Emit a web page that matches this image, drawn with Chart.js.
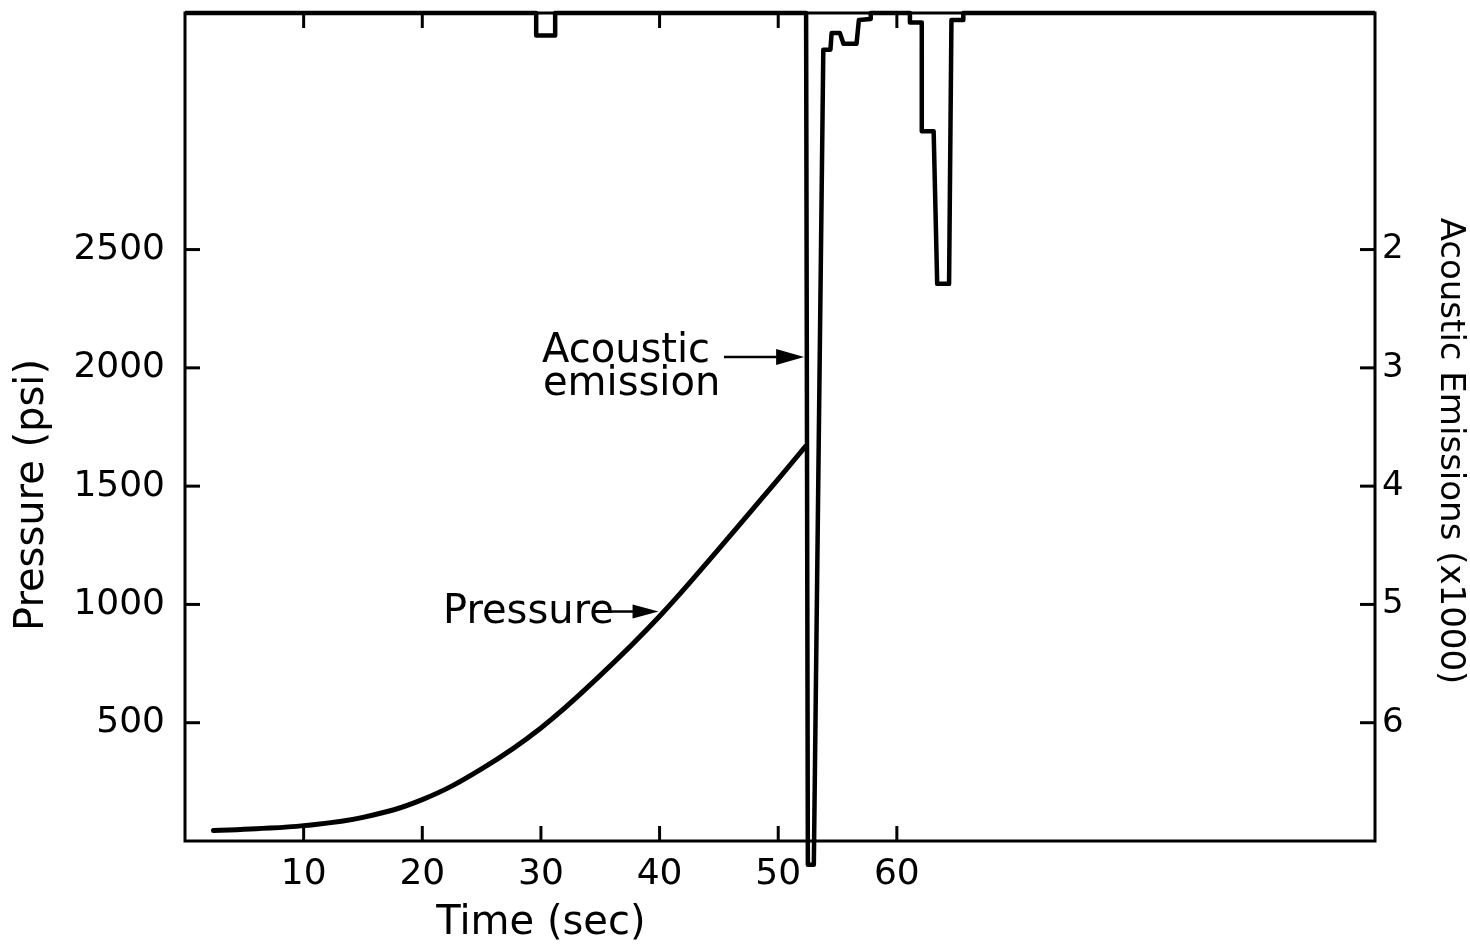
<!DOCTYPE html>
<html>
<head>
<meta charset="utf-8">
<script src="https://cdn.jsdelivr.net/npm/chart.js@4.4.1/dist/chart.umd.min.js"></script>
<style>
  html, body { margin: 0; padding: 0; background: #fff; }
  canvas { display: block; }
</style>
</head>
<body>
<canvas id="aeChart" width="1470" height="947"></canvas>
<script>
// Pressure trace (left axis, psi) against time (sec)
const pressureTime = [2.4, 6, 10, 15, 20, 25, 30, 35, 40, 45, 50, 52.3];
const pressureValues = [44, 52, 65, 100, 175, 305, 478, 700, 950, 1235, 1530, 1668];

// Acoustic emission trace (right axis, x1000, counted downward from the top)
const emissionTime = [0, 29.6, 29.6, 31.2, 31.2, 52.35, 52.5, 53.0, 53.8, 54.4, 54.5, 55.2, 55.5, 56.6,
    56.8, 57.8, 57.8, 61.1, 61.1, 62.1, 62.1, 63.1, 63.4, 64.4, 64.6, 65.6, 65.6, 100.3];
const emissionValues = [0, 0, 0.19, 0.19, 0, 0, 7.2, 7.2, 0.31, 0.31, 0.17, 0.17, 0.26, 0.26,
    0.06, 0.05, 0, 0, 0.08, 0.08, 1.0, 1.0, 2.29, 2.29, 0.06, 0.06, 0, 0];

// Tick labels
const xTicks = [10, 20, 30, 40, 50, 60];
const xTopTicks = [10, 20, 40, 50, 60];
const pressureTicks = [500, 1000, 1500, 2000, 2500];
const emissionTicks = [2, 3, 4, 5, 6];

const FONT = 'DejaVu Sans';
Chart.defaults.font.family = FONT;
Chart.defaults.color = '#000';

function toPoints(xs, ys) {
    return xs.map((x, i) => ({ x, y: ys[i] }));
}

function fixedTicks(list) {
    return scale => { scale.ticks = list.map(v => ({ value: v })); };
}

// keep the plot box exactly where the axes say, without label overhang padding
function fixSize(prop, size) {
    return s => {
        s[prop] = size;
        s.paddingTop = 0; s.paddingBottom = 0;
        s.paddingLeft = 0; s.paddingRight = 0;
    };
}

function line(ctx, x1, y1, x2, y2) {
    ctx.beginPath();
    ctx.moveTo(x1, y1);
    ctx.lineTo(x2, y2);
    ctx.stroke();
}

function arrow(ctx, x1, x2, y, head, half) {
    ctx.lineWidth = 2.5;
    line(ctx, x1, y, x2 - head + 2, y);
    ctx.beginPath();
    ctx.moveTo(x2, y);
    ctx.lineTo(x2 - head, y - half);
    ctx.lineTo(x2 - head, y + half);
    ctx.closePath();
    ctx.fill();
}

// Frame with inward ticks, as on the original plotter chart
const frameTicks = {
    id: 'frameTicks',
    beforeDatasetsDraw(chart) {
        const { ctx, chartArea: a, scales } = chart;
        const len = 15;
        ctx.save();
        ctx.strokeStyle = '#000';
        ctx.lineWidth = 3;
        ctx.strokeRect(a.left, a.top, a.right - a.left, a.bottom - a.top);
        xTicks.forEach(v => {
            const px = scales.x.getPixelForValue(v);
            line(ctx, px, a.bottom, px, a.bottom - len);
        });
        xTopTicks.forEach(v => {
            const px = scales.x.getPixelForValue(v);
            line(ctx, px, a.top, px, a.top + len);
        });
        pressureTicks.forEach(v => {
            const py = scales.y.getPixelForValue(v);
            line(ctx, a.left, py, a.left + len, py);
        });
        emissionTicks.forEach(v => {
            const py = scales.y2.getPixelForValue(v);
            line(ctx, a.right, py, a.right - len, py);
        });
        ctx.restore();
    },
    afterDraw(chart) {
        const { ctx, scales } = chart;
        const x = scales.x, y = scales.y;
        ctx.save();
        ctx.fillStyle = '#000';
        ctx.strokeStyle = '#000';

        // axis titles
        ctx.font = `40px "${FONT}"`;
        ctx.textAlign = 'center';
        ctx.textBaseline = 'middle';
        ctx.fillText('Time (sec)', x.getPixelForValue(30), 924);

        ctx.save();
        ctx.translate(33, 495);
        ctx.rotate(-Math.PI / 2);
        ctx.fillText('Pressure (psi)', 0, 0);
        ctx.restore();

        ctx.save();
        ctx.font = `34px "${FONT}"`;
        ctx.translate(1450, 451);
        ctx.rotate(Math.PI / 2);
        ctx.fillText('Acoustic Emissions (x1000)', 0, 0);
        ctx.restore();

        // curve labels
        ctx.font = `40px "${FONT}"`;
        ctx.textAlign = 'left';
        ctx.textBaseline = 'alphabetic';
        ctx.fillText('Acoustic', 542, 362);
        ctx.fillText('emission', 543, 395);
        arrow(ctx, 724, x.getPixelForValue(52.35) - 2, 357, 28, 8);

        ctx.fillText('Pressure', 443, 623);
        arrow(ctx, 610, x.getPixelForValue(40) - 1, y.getPixelForValue(970), 26, 7);
        ctx.restore();
    }
};

new Chart(document.getElementById('aeChart'), {
    type: 'line',
    data: {
        datasets: [{
            label: 'Pressure',
            data: toPoints(pressureTime, pressureValues),
            yAxisID: 'y',
            borderColor: '#000',
            borderWidth: 5,
            pointRadius: 0,
            tension: 0.4,
            borderCapStyle: 'round'
        }, {
            label: 'Acoustic emission',
            data: toPoints(emissionTime, emissionValues),
            yAxisID: 'y2',
            borderColor: '#000',
            borderWidth: 4.5,
            pointRadius: 0,
            tension: 0,
            borderJoinStyle: 'round',
            clip: false
        }]
    },
    options: {
        responsive: false,
        animation: false,
        layout: { padding: { top: 13, left: 0, right: 0, bottom: 0 } },
        plugins: { legend: { display: false }, tooltip: { enabled: false } },
        scales: {
            x: {
                type: 'linear',
                min: 0,
                max: 100.3,
                afterBuildTicks: fixedTicks(xTicks),
                afterFit: fixSize('height', 106),
                grid: { display: false, drawTicks: false },
                border: { display: false },
                ticks: { font: { size: 36 }, padding: 12, maxRotation: 0, autoSkip: false,
                    callback: v => String(v) }
            },
            y: {
                position: 'left',
                min: 0,
                max: 3500,
                afterBuildTicks: fixedTicks(pressureTicks),
                afterFit: fixSize('width', 185),
                grid: { display: false, drawTicks: false },
                border: { display: false },
                ticks: { font: { size: 36 }, padding: 20, callback: v => String(v) }
            },
            y2: {
                position: 'right',
                reverse: true,
                min: 0,
                max: 7,
                afterBuildTicks: fixedTicks(emissionTicks),
                afterFit: fixSize('width', 95),
                grid: { display: false, drawTicks: false },
                border: { display: false },
                ticks: { font: { size: 34 }, padding: 7, callback: v => String(v) }
            }
        }
    },
    plugins: [frameTicks]
});
</script>
</body>
</html>
